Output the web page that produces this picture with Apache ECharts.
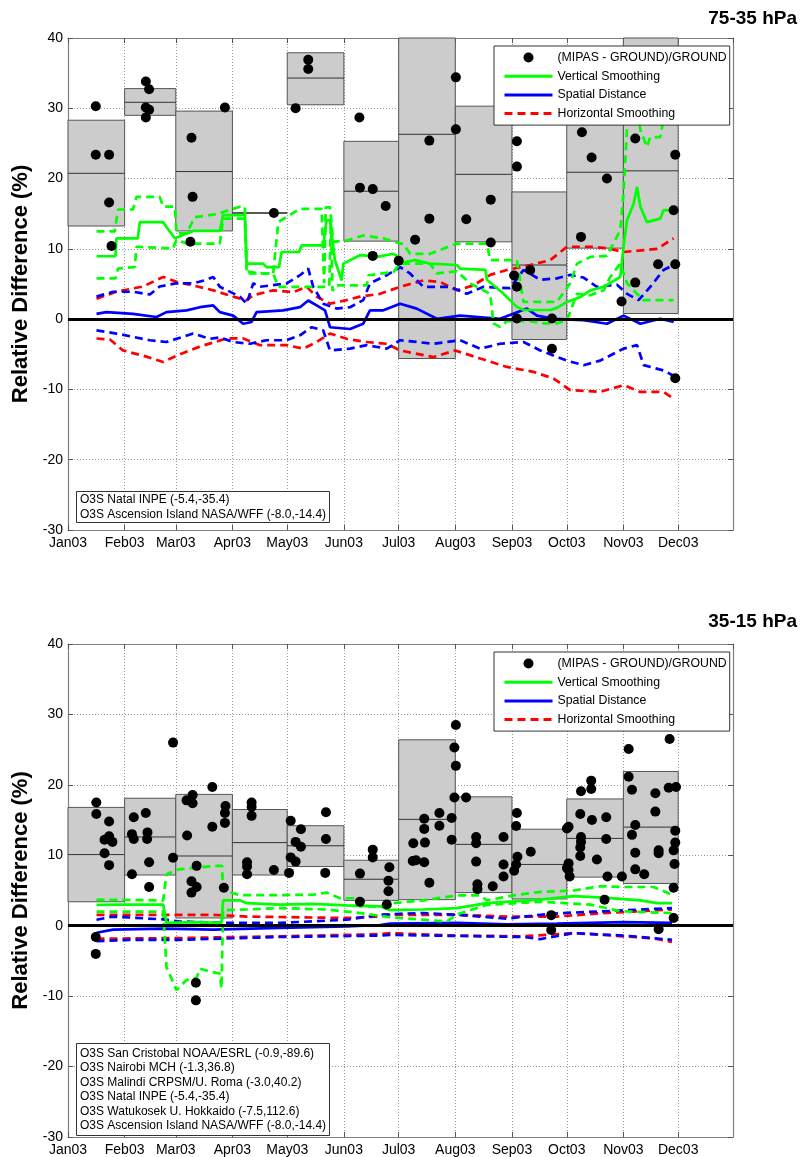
<!DOCTYPE html>
<html>
<head>
<meta charset="utf-8">
<script src="https://cdn.jsdelivr.net/npm/echarts@6.0.0/dist/echarts.min.js"></script>
<style>
html, body { margin: 0; padding: 0; background: #fff; }
#chart { width: 800px; height: 1157px; }
</style>
</head>
<body>
<div id="chart"></div>
<script>
// month tick labels
var tickLabels = ['Jan03', 'Feb03', 'Mar03', 'Apr03', 'May03', 'Jun03', 'Jul03', 'Aug03', 'Sep03', 'Oct03', 'Nov03', 'Dec03'];
var legendNames = ['(MIPAS - GROUND)/GROUND', 'Vertical Smoothing', 'Spatial Distance', 'Horizontal Smoothing'];
var panelTitles = ['75-35 hPa', '35-15 hPa'];
var topStations = 'O3S Natal INPE (-5.4,-35.4)\nO3S Ascension Island NASA/WFF (-8.0,-14.4)';
var botStations = 'O3S San Cristobal NOAA/ESRL (-0.9,-89.6)\nO3S Nairobi MCH (-1.3,36.8)\nO3S Malindi CRPSM/U. Roma (-3.0,40.2)\nO3S Natal INPE (-5.4,-35.4)\nO3S Watukosek U. Hokkaido (-7.5,112.6)\nO3S Ascension Island NASA/WFF (-8.0,-14.4)';

// monthly boxes, Jan..Nov (index = month)
var topBoxLow  = [13.25, 29.0, 12.55, 15.1, 30.5, 11.1, -5.6, 11.0, -2.9, 10.1, 0.8];
var topBoxMed  = [20.75, 30.85, 21.0, 15.1, 34.3, 18.2, 26.3, 20.6, 7.7, 20.9, 21.1];
var topBoxHigh = [28.3, 32.8, 29.6, 15.1, 37.9, 25.3, 42, 30.3, 18.1, 31, 42];
var botBoxLow  = [3.4, 7.2, 1.1, 7.2, 8.4, 3.6, 3.7, 4.7, 3.8, 6.9, 6.0];
var botBoxMed  = [10.1, 12.6, 9.9, 11.8, 11.35, 6.6, 15.1, 11.55, 8.7, 12.4, 14.0];
var botBoxHigh = [16.8, 18.1, 18.65, 16.5, 14.2, 9.3, 26.4, 18.3, 13.7, 18.0, 21.9];

// individual comparisons [day of year, %]
var topDots = [[15.2, 30.3], [15.2, 23.4], [22.5, 23.4], [22.5, 16.6], [23.8, 10.4],
  [42.6, 33.8], [44.4, 32.7], [42.6, 30.1], [44.4, 29.8], [42.6, 28.7],
  [67.6, 25.8], [68.2, 17.4], [67.0, 11.0], [85.9, 30.1], [112.7, 15.1],
  [124.6, 30.0], [131.5, 36.9], [131.5, 35.6],
  [159.5, 28.7], [159.8, 18.7], [166.8, 18.5], [173.9, 16.1], [166.8, 9.0], [181.0, 8.3],
  [190.0, 11.3], [197.8, 25.4], [197.8, 14.3], [212.3, 34.4], [212.3, 27.0], [218.0, 14.2], [231.4, 17.0], [231.4, 10.9],
  [245.7, 25.3], [245.7, 21.7], [244.2, 6.2], [245.7, 4.6], [245.7, 0.1], [253.0, 7.0], [264.9, 0.1], [264.9, -4.2],
  [281.3, 26.6], [289.0, 28.6], [286.6, 23.0], [295.0, 20.0], [280.8, 11.7],
  [303.0, 2.5], [310.5, 25.7], [310.5, 5.2], [323.0, 7.8], [331.5, 15.5], [332.4, 23.4], [332.4, 7.8], [332.4, -8.4]];
var botDots = [[15.5, 17.5], [15.5, 15.85], [22.5, 14.8], [22.5, 12.7], [20.0, 12.2], [24.3, 11.9], [20.0, 10.3], [22.5, 8.6], [15.2, -1.6], [15.2, -4.0],
  [36.0, 15.4], [35.0, 13.0], [36.0, 12.3], [35.0, 7.3], [42.6, 16.0], [43.5, 13.25], [43.3, 12.3], [44.4, 9.0], [44.4, 5.5], [57.5, 26.0], [57.5, 9.65],
  [64.9, 17.8], [68.2, 18.55], [68.2, 17.4], [65.2, 12.8], [70.4, 8.5], [67.6, 6.3], [70.4, 5.5], [67.6, 4.7], [79.0, 19.7], [79.0, 14.05],
  [86.2, 17.0], [85.9, 16.0], [85.9, 14.6], [85.3, 5.4], [70.0, -8.1], [70.0, -10.6],
  [100.5, 17.5], [100.5, 16.9], [100.5, 15.6], [98.0, 9.0], [98.0, 8.4], [98.0, 7.3], [112.7, 7.9],
  [121.9, 14.9], [124.6, 11.9], [127.5, 13.7], [127.5, 11.2], [121.9, 9.7], [124.6, 9.1], [121.0, 7.5], [141.2, 16.1], [141.2, 12.3], [140.8, 7.5],
  [159.8, 7.4], [159.8, 3.4], [166.8, 10.8], [166.8, 9.7], [175.9, 8.3], [175.4, 6.4], [175.4, 4.9], [174.5, 3.0],
  [189.0, 11.7], [188.7, 9.2], [190.5, 9.3], [195.0, 15.2], [195.0, 13.75], [195.4, 11.8], [195.0, 9.0], [197.8, 6.1], [203.3, 16.0], [203.3, 14.2],
  [210.0, 15.3], [210.0, 12.2], [212.3, 28.5], [211.5, 25.3], [212.3, 22.7], [211.5, 18.2],
  [217.9, 18.2], [223.4, 12.6], [223.4, 11.7], [223.4, 9.1], [224.1, 5.9], [224.1, 5.2], [232.5, 5.6], [238.4, 12.6], [238.4, 8.7], [238.4, 7.0],
  [245.7, 16.0], [245.3, 14.15], [246.0, 9.8], [245.3, 8.7], [244.2, 7.8],
  [253.3, 10.5], [264.5, 1.5], [264.5, -0.6], [274.0, 14.05], [273.1, 13.8], [274.0, 8.85], [274.0, 7.9], [273.1, 8.2], [274.6, 7.0],
  [280.8, 19.1], [286.4, 20.6], [286.4, 19.4], [280.4, 15.85], [286.8, 15.0], [294.6, 15.4], [280.8, 12.6], [280.8, 11.9], [280.4, 11.1], [280.4, 9.9],
  [294.6, 12.3], [289.5, 9.4], [295.3, 7.0], [303.2, 7.0], [293.7, 3.7],
  [306.9, 25.1], [306.9, 21.15], [308.7, 19.3], [310.5, 14.3], [308.7, 12.9], [310.5, 10.35], [310.5, 8.0], [315.4, 7.3], [321.5, 18.8], [321.5, 16.2],
  [323.3, 10.7], [323.3, 10.3], [329.3, 26.5], [328.8, 19.6], [332.8, 19.7], [332.4, 13.5], [332.4, 11.8], [331.5, 10.7], [332.0, 8.75], [331.5, 5.4],
  [331.5, 1.1], [323.3, -0.5]];

// 75-35 hPa error lines [day, %]
var topGreen = [[15.6, 8.95], [26.0, 8.95], [26.5, 11.5], [38.2, 11.5], [39.3, 13.8], [52.1, 13.8], [53.9, 13.1], [58.5, 11.5], [68.5, 12.55], [83.1, 12.55],
  [84.9, 14.8], [96.8, 14.8], [97.8, 7.9], [106.8, 7.9], [108.7, 7.4], [115.5, 7.4], [116.9, 9.55], [126.5, 9.55], [127.9, 10.5], [139.7, 10.5],
  [141.6, 14.1], [143.4, 14.1], [146.1, 8.4], [149.8, 5.5], [150.7, 7.9], [159.8, 9.1], [170, 8.9], [178.1, 9.3], [181.8, 8.7], [183.6, 8.1],
  [190, 8.4], [198.2, 7.9], [212.8, 7.7], [214.6, 7.2], [228.5, 7.0], [229.3, 5.6], [238.4, 3.6], [245.7, 1.75], [249.3, 1.3], [264, 1.3],
  [267.6, 1.6], [273.1, 2.45], [280.4, 3.15], [285.9, 4.1], [293.2, 4.6], [302.3, 6.0], [304.1, 10.3], [306.0, 14.1], [309.6, 16.4], [311.5, 18.8],
  [313.3, 16.0], [316.9, 13.8], [324.2, 14.3], [326.0, 15.5], [331.5, 15.5]];
var topGreenUp = [[15.6, 12.5], [25.6, 12.5], [27.4, 15.6], [35.6, 15.6], [37.5, 17.4], [50.2, 17.4], [52.1, 16.0], [58.5, 16.0], [59.4, 12.2], [64.9, 12.2],
  [69.4, 14.5], [83.1, 15.0], [84.9, 15.25], [94.1, 16.0], [96.8, 16.0], [97.8, 6.8], [105, 6.5], [112.3, 6.5], [115.1, 13.8], [127, 15.7],
  [138.8, 15.7], [140.2, 5.1], [141.1, 15.9], [143.4, 15.9], [145.2, 11.0], [152.5, 11.2], [161.6, 11.9], [172.6, 11.5], [181.8, 10.75], [183.6, 10.75],
  [187.2, 9.3], [198.2, 9.3], [212.8, 10.75], [229.3, 10.75], [231.1, 8.4], [245.7, 8.4], [249.3, 2.45], [267.6, 2.45], [274.9, 5.1], [278.6, 7.9],
  [285.9, 8.85], [295, 9.0], [302.3, 12.65], [304.1, 18], [306.3, 28.8], [312.3, 28.8], [313.3, 26.9], [316.9, 24.5], [318.7, 25.9], [324.2, 25.9],
  [326.0, 28.5], [331.5, 28.5]];
var topGreenLo = [[15.6, 5.8], [26.0, 5.8], [27.4, 7.2], [36.5, 7.4], [37.5, 10.3], [57.5, 10.05], [59.4, 11.3], [64.9, 10.75], [83.1, 10.75], [84.9, 14.3],
  [96.8, 14.3], [97.8, 6.5], [112.3, 6.5], [115.1, 4.6], [139.7, 4.6], [143.0, 4.6], [143.9, 14.0], [144.8, 4.0], [146.5, 4.8], [163.5, 4.8],
  [164.5, 6.25], [178.1, 6.7], [181.8, 7.9], [198.2, 7.9], [201.9, 6.5], [212.8, 6.8], [220.1, 5.1], [231.1, 3.6], [232.9, -0.6], [236.5, -1.1],
  [240.2, -0.3], [253, -0.3], [260.3, -0.6], [267.6, -0.6], [273.1, -0.15], [278.6, 3.6], [285.9, 3.4], [293.2, 4.1], [296.8, 6.0], [302.3, 7.9],
  [306, 5.1], [311.5, 3.6], [315.1, 2.7], [331.5, 2.7]];
var topBlue = [[15.6, 0.75], [21, 1.0], [35.6, 0.75], [48.4, 0.3], [53.9, 1.0], [64.9, 1.25], [72.2, 1.7], [79.5, 1.95], [83.1, 1.0], [90.4, 0.5],
  [95.9, -0.65], [100.5, -0.4], [103.2, 1.0], [117.8, 1.25], [127, 1.7], [131.5, 2.65], [136.1, 1.95], [140.7, 1.25], [143.4, -1.15], [154.4, -1.4],
  [161.6, -0.65], [165.3, 1.25], [172.6, 1.25], [181.8, 2.2], [190.9, 1.5], [201.9, 0.05], [214.6, 0.5], [236.5, 0.05], [251.2, 1.5], [256.7, 0.5],
  [265.8, 0.05], [282.2, -0.15], [295, -0.65], [304.1, 0.5], [313.3, -0.65], [324.2, 0.05], [331.5, -0.4]];
var topBlueUp = [[15.6, 3.2], [24.7, 3.9], [35.6, 3.9], [44.8, 3.5], [50.2, 4.65], [59.4, 5.1], [68.5, 5.1], [75.8, 5.6], [79.5, 6.0], [83.1, 4.6],
  [94.1, 3.2], [97.8, 2.2], [101.4, 5.1], [105, 4.6], [119.7, 5.1], [127, 6.25], [131.5, 7.2], [134.2, 4.6], [139.7, 2.2], [147.1, 1.5],
  [154.4, 1.7], [161.6, 2.7], [165.3, 5.1], [174.5, 6.25], [181.8, 7.4], [187.2, 6.5], [194.5, 4.6], [209.2, 4.6], [218.3, 3.6], [227.4, 4.6],
  [242, 4.4], [249.3, 7.0], [258.5, 5.6], [267.6, 5.8], [274.9, 6.3], [282.2, 5.9], [289.5, 4.6], [300.5, 4.9], [306, 3.6], [312.3, 2.7],
  [318.7, 4.6], [326, 7.0], [331.5, 7.7]];
var topBlueLo = [[15.6, -1.6], [26.5, -2.05], [44.8, -3.0], [53.9, -3.25], [68.5, -2.05], [77.6, -2.8], [83.1, -2.6], [90.4, -3.25], [99.6, -3.5], [108.7, -3.0],
  [119.7, -3.0], [127, -2.3], [133.4, -1.15], [139.7, -1.6], [143.4, -4.45], [154.4, -4.2], [163.5, -3.7], [174.5, -4.2], [181.8, -3.0], [200, -3.5],
  [214.6, -3.0], [225.6, -4.2], [236.5, -3.5], [249.3, -3.25], [258.5, -4.45], [273.1, -5.9], [282.2, -6.55], [291.3, -5.9], [304.1, -4.2], [311.5, -3.7],
  [315.1, -6.55], [326, -7.3], [332.4, -8.2]];
var topRedUp = [[15.6, 2.9], [26.5, 3.9], [41.1, 4.65], [52.1, 6.0], [59.4, 5.3], [68.5, 4.8], [79.5, 4.1], [90.4, 3.2], [97.8, 2.7], [101.4, 3.4],
  [112.3, 4.1], [123.3, 3.85], [130.6, 4.6], [136.1, 3.2], [143.4, 2.2], [150.7, 2.6], [159.8, 3.2], [170.8, 3.6], [181.8, 4.6], [194.5, 5.5],
  [203.7, 5.3], [212.8, 4.1], [221.9, 4.8], [231.1, 6.3], [240.2, 7.0], [253, 7.7], [264, 8.4], [273.1, 10.3], [285.9, 10.3], [295, 10.1],
  [304.1, 9.55], [322.4, 10.0], [331.5, 11.5]];
var topRedLo = [[15.6, -2.75], [23, -2.9], [30.1, -4.45], [41.1, -5.2], [52.1, -6.1], [59.4, -5.2], [72.2, -3.9], [86.8, -2.75], [95.9, -2.75], [105, -3.7],
  [119.7, -3.7], [128.8, -4.2], [136.1, -3.25], [143.4, -2.05], [152.5, -2.8], [163.5, -3.25], [174.5, -3.5], [181.8, -4.45], [200, -5.4], [211.9, -4.45],
  [225.6, -5.6], [240.2, -6.8], [254.8, -7.5], [265.8, -8.45], [274.9, -10.1], [291.3, -10.35], [304.1, -9.4], [313.3, -10.35], [326, -10.35], [330.6, -11.15]];

// 35-15 hPa error lines [day, %]
var botGreen = [[15.6, 2.95], [30, 3.0], [52.1, 3.0], [53.9, 0.4], [70, 0.5], [84, 0.4], [84.9, 3.6], [94.1, 3.6], [97.8, 3.2], [116, 3.0],
  [134.2, 3.1], [152.5, 2.9], [170.8, 2.75], [176.3, 2.2], [194.5, 2.3], [212.8, 2.5], [229.3, 3.2], [258.5, 3.7], [276.7, 4.2], [293.2, 4.0],
  [313.3, 3.6], [322.4, 3.2], [330.6, 3.2]];
var botGreenUp = [[15.6, 3.7], [52.1, 3.6], [53.9, 7.3], [60.3, 8.0], [81.3, 8.5], [84.3, 8.5], [84.9, 5.0], [94.1, 4.35], [116, 4.35], [134.2, 4.4],
  [141.6, 4.7], [148.9, 3.9], [156.2, 3.9], [159.8, 2.75], [170.8, 2.75], [176.3, 3.15], [194.5, 3.6], [212.8, 4.3], [225.6, 4.3], [229.3, 3.6],
  [243.8, 4.3], [258.5, 4.8], [276.7, 5.0], [291.3, 5.6], [304.1, 5.5], [320.5, 5.5], [330.6, 4.4]];
var botGreenLo = [[15.6, 2.0], [52.1, 2.0], [53.9, -5.85], [59.4, -9.15], [64.9, -7.7], [70.4, -7.4], [72.2, -6.1], [77.6, -6.5], [83.1, -6.8], [84.0, -8.9],
  [84.9, 2.2], [97.8, 2.3], [116, 2.5], [141.6, 2.3], [159.8, 1.8], [176.3, 1.2], [207.3, 0.6], [212.8, 1.6], [229.3, 2.95], [258.5, 3.4],
  [285.9, 3.0], [302.3, 2.05], [330.6, 1.8]];
var botBlue = [[15.6, -1.0], [24.7, -0.55], [52.1, -0.4], [79.5, -0.55], [116, -0.3], [152.5, -0.1], [170.8, 0.1], [176.3, 0.3], [212.8, 0.4], [240.2, 0.2],
  [267.6, 0.3], [304.1, 0.5], [330.6, 0.4]];
var botBlueUp = [[15.6, 0.85], [24.7, 1.3], [52.1, 0.9], [61.2, 0.6], [84.9, 0.4], [116, 0.4], [152.5, 0.85], [170.8, 1.55], [181.8, 1.7], [194.5, 1.8],
  [212.8, 1.55], [240.2, 1.0], [258.5, 1.55], [271.2, 1.8], [293.2, 2.05], [313.3, 2.3], [330.6, 2.5]];
var botBlueLo = [[15.6, -2.2], [33.8, -2.0], [61.2, -2.0], [116, -1.6], [170.8, -1.4], [176.3, -1.3], [249.3, -1.6], [258.5, -1.9], [276.7, -1.05], [304.1, -1.4],
  [330.6, -2.0]];
var botRedUp = [[15.6, 1.55], [43, 1.55], [79.5, 1.55], [97.8, 1.3], [152.5, 1.1], [170.8, 1.3], [176.3, 1.55], [212.8, 1.55], [240.2, 1.3], [267.6, 1.3],
  [293.2, 1.8], [313.3, 2.05], [330.6, 2.3]];
var botRedLo = [[15.6, -1.85], [61.2, -1.75], [116, -1.5], [170.8, -1.2], [176.3, -1.05], [212.8, -1.4], [249.3, -1.5], [276.7, -1.05], [304.1, -1.5], [320.5, -1.8],
  [330.6, -2.3]];

var FONT = 'Liberation Sans';
var base = new Date(2003, 0, 1).getTime();
var xMin = base;
var xMax = new Date(2003, 11, 31).getTime();

function dayTs(d) { return base + d * 86400000; }
function pts(arr) { return arr.map(function (p) { return [dayTs(p[0]), p[1]]; }); }

function boxData(low, med, high) {
  return low.map(function (v, m) {
    return [new Date(2003, m, 1).getTime(), new Date(2003, m + 1, 1).getTime(), v, med[m], high[m]];
  });
}

function renderBox(params, api) {
  var a = api.coord([api.value(0), api.value(4)]);
  var b = api.coord([api.value(1), api.value(2)]);
  var m0 = api.coord([api.value(0), api.value(3)]);
  var m1 = api.coord([api.value(1), api.value(3)]);
  var cs = params.coordSys;
  var rect = echarts.graphic.clipRectByRect(
    { x: a[0], y: a[1], width: b[0] - a[0], height: b[1] - a[1] },
    { x: cs.x, y: cs.y, width: cs.width, height: cs.height });
  var children = [];
  if (rect) {
    children.push({ type: 'rect', shape: rect, style: { fill: '#cccccc', stroke: '#555', lineWidth: 1 } });
  }
  children.push({ type: 'line', shape: { x1: m0[0], y1: m0[1], x2: m1[0], y2: m1[1] }, style: { stroke: '#333', lineWidth: 1 } });
  return { type: 'group', children: children };
}

var grids = [
  { left: 68, top: 38, width: 665, height: 492 },
  { left: 68, top: 644, width: 665, height: 493 }
];

var xAxes = [], yAxes = [];
grids.forEach(function (g, gi) {
  var xBase = {
    type: 'time', gridIndex: gi, min: xMin, max: xMax, splitNumber: 12,
    minInterval: 28 * 86400000, maxInterval: 31 * 86400000,
    axisLine: { show: true, onZero: false, lineStyle: { color: '#7f7f7f', width: 1.2 } },
    axisTick: { show: true, inside: true, length: 5, lineStyle: { color: '#555' } }
  };
  xAxes.push(Object.assign({}, xBase, {
    position: 'bottom',
    axisLabel: {
      show: true, margin: 6, color: '#000', fontSize: 14, fontFamily: FONT, showMaxLabel: false,
      formatter: function (v) { var d = new Date(v); return d.getDate() === 1 ? tickLabels[d.getMonth()] : ''; }
    },
    splitLine: { show: true, lineStyle: { color: '#999', width: 1, type: [1, 2] } }
  }));
  xAxes.push(Object.assign({}, xBase, { position: 'top', axisLabel: { show: false }, splitLine: { show: false } }));
  var yBase = {
    type: 'value', gridIndex: gi, min: -30, max: 40, interval: 10,
    axisLine: { show: true, onZero: false, lineStyle: { color: '#7f7f7f', width: 1.2 } },
    axisTick: { show: true, inside: true, length: 5, lineStyle: { color: '#555' } }
  };
  yAxes.push(Object.assign({}, yBase, {
    position: 'left',
    name: 'Relative Difference (%)', nameLocation: 'middle', nameRotate: 90, nameGap: 31,
    nameTextStyle: { fontSize: 22, fontWeight: 'bold', color: '#000', fontFamily: FONT },
    axisLabel: { margin: 5, color: '#000', fontSize: 14, fontFamily: FONT },
    splitLine: { show: true, lineStyle: { color: '#999', width: 1, type: [1, 2] } }
  }));
  yAxes.push(Object.assign({}, yBase, { position: 'right', axisLabel: { show: false }, splitLine: { show: false } }));
});

function lineSeries(name, data, color, dashed, gi, extra) {
  return Object.assign({
    type: 'line', name: name, xAxisIndex: gi * 2, yAxisIndex: gi * 2,
    data: pts(data), symbol: 'none', silent: true, z: 3,
    lineStyle: { color: color, width: 2.7, type: dashed ? [8, 5] : 'solid' },
    itemStyle: { color: color }
  }, extra || {});
}

var panels = [
  { boxes: boxData(topBoxLow, topBoxMed, topBoxHigh), dots: topDots,
    g: topGreen, gu: topGreenUp, gl: topGreenLo, b: topBlue, bu: topBlueUp, bl: topBlueLo, ru: topRedUp, rl: topRedLo },
  { boxes: boxData(botBoxLow, botBoxMed, botBoxHigh), dots: botDots,
    g: botGreen, gu: botGreenUp, gl: botGreenLo, b: botBlue, bu: botBlueUp, bl: botBlueLo, ru: botRedUp, rl: botRedLo }
];

var series = [];
panels.forEach(function (p, gi) {
  series.push({
    type: 'custom', name: 'box' + gi, xAxisIndex: gi * 2, yAxisIndex: gi * 2,
    renderItem: renderBox, data: p.boxes, encode: { x: [0, 1], y: [2, 3, 4] }, silent: true, z: 1
  });
  series.push(lineSeries('Horizontal Smoothing', p.ru, '#ff0000', true, gi));
  series.push(lineSeries('Horizontal Smoothing', p.rl, '#ff0000', true, gi));
  series.push(lineSeries('Spatial Distance range', p.bu, '#0000ff', true, gi));
  series.push(lineSeries('Spatial Distance range', p.bl, '#0000ff', true, gi));
  series.push(lineSeries('Spatial Distance', p.b, '#0000ff', false, gi, {
    markLine: {
      silent: true, symbol: 'none', label: { show: false }, animation: false,
      lineStyle: { color: '#000', width: 3, type: 'solid' },
      data: [{ yAxis: 0 }]
    }
  }));
  series.push(lineSeries('Vertical Smoothing range', p.gu, '#00ff00', true, gi));
  series.push(lineSeries('Vertical Smoothing range', p.gl, '#00ff00', true, gi));
  series.push(lineSeries('Vertical Smoothing', p.g, '#00ff00', false, gi));
  series.push({
    type: 'scatter', name: '(MIPAS - GROUND)/GROUND', xAxisIndex: gi * 2, yAxisIndex: gi * 2,
    data: pts(p.dots), symbol: 'circle', symbolSize: 10, itemStyle: { color: '#000', opacity: 1 }, silent: true, z: 4
  });
});

function legendAt(top) {
  return {
    data: legendNames.map(function (n, i) {
      return i === 0 ? { name: n } : { name: n, itemStyle: { opacity: 0 }, lineStyle: { width: 3 } };
    }),
    left: 494, top: top, orient: 'vertical',
    itemWidth: 48, itemHeight: 10, itemGap: 6.7, padding: [5.5, 3, 5.5, 9],
    backgroundColor: '#fff', borderColor: '#333', borderWidth: 1,
    selectedMode: false, z: 10,
    textStyle: { fontSize: 12.3, color: '#000', fontFamily: FONT }
  };
}

function stationBox(text, top, lh, pad) {
  return {
    text: text, left: 76, top: top, padding: pad,
    backgroundColor: '#fff', borderColor: '#333', borderWidth: 1, z: 10,
    textStyle: { fontSize: 12, fontWeight: 'normal', color: '#000', fontFamily: FONT, lineHeight: lh }
  };
}

var chart = echarts.init(document.getElementById('chart'), null, { renderer: 'canvas' });
chart.setOption({
  animation: false,
  backgroundColor: '#fff',
  textStyle: { fontFamily: FONT },
  title: [
    { text: panelTitles[0], right: 3, top: 9, padding: 0, textStyle: { fontSize: 19, fontWeight: 'bold', color: '#000', fontFamily: FONT } },
    { text: panelTitles[1], right: 3, top: 612, padding: 0, textStyle: { fontSize: 19, fontWeight: 'bold', color: '#000', fontFamily: FONT } },
    stationBox(topStations, 491, 15, [1, 4, 1, 4]),
    stationBox(botStations, 1043, 14.5, [3, 4, 3, 4])
  ],
  legend: [legendAt(46), legendAt(652)],
  grid: grids,
  xAxis: xAxes,
  yAxis: yAxes,
  series: series
});
</script>
</body>
</html>
